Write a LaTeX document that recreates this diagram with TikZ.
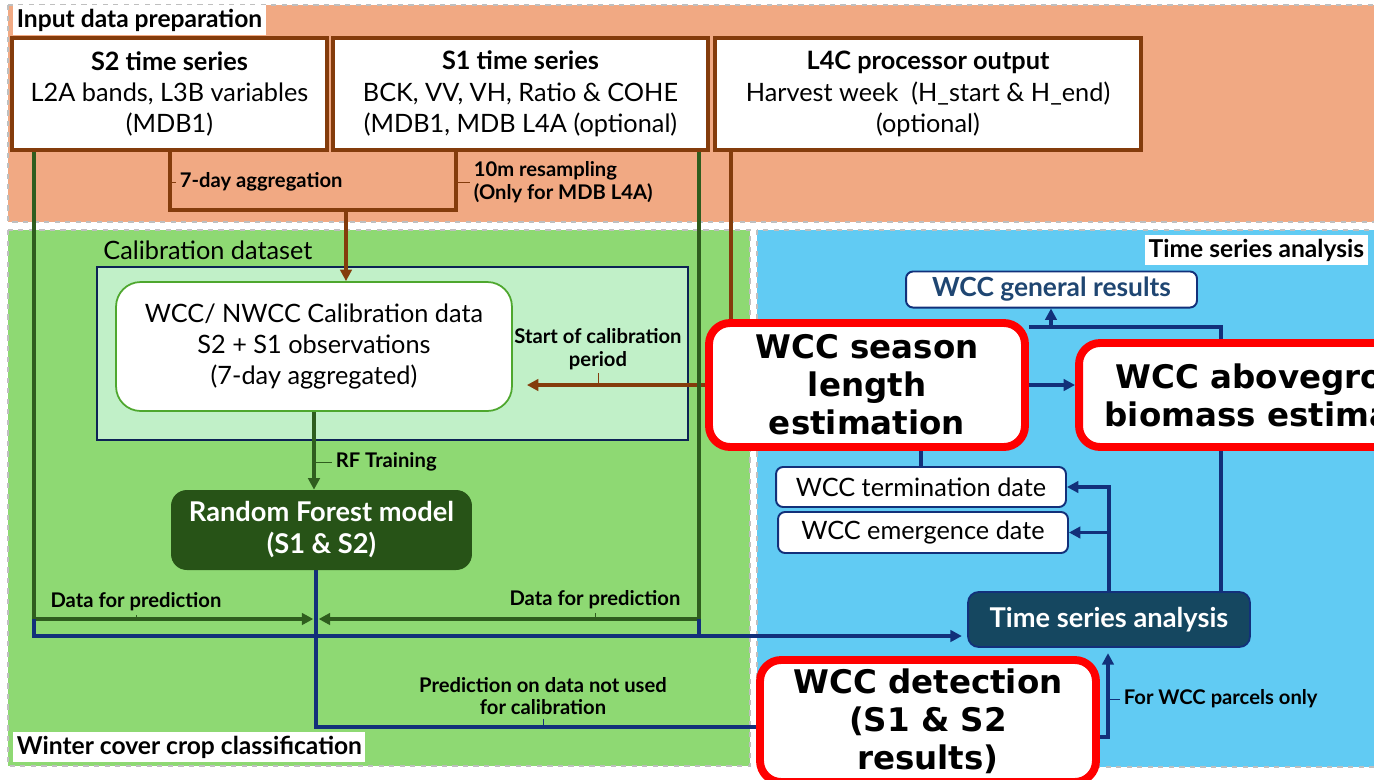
\documentclass[tikz,border=0pt]{standalone}
\usepackage{fontspec}
\setmainfont{Lato}
\newfontfamily\bigfont{DejaVu Sans}
\usetikzlibrary{arrows.meta}

\definecolor{inputbg}{HTML}{F1A983}
\definecolor{classbg}{HTML}{8ED973}
\definecolor{calbg}{HTML}{C1F0C8}
\definecolor{tsbg}{HTML}{61CBF3}
\definecolor{brownc}{HTML}{843C0C}
\definecolor{greenc}{HTML}{2F5D1E}
\definecolor{navyc}{HTML}{12307A}
\definecolor{rfc}{HTML}{275317}
\definecolor{tsac}{HTML}{154760}
\definecolor{caledge}{HTML}{4EA72E}
\definecolor{restxt}{HTML}{1F4672}

\newcommand\boxfont{\fontsize{14.4}{17.8}\selectfont}
\newcommand\lblfont{\fontsize{11.5}{12.8}\selectfont\bfseries}
\newcommand\redfont{\bigfont\bfseries\fontsize{18.5}{21.6}\selectfont}

\pgfdeclarelayer{back}
\pgfsetlayers{back,main}

\tikzset{
  panel/.style={draw=black!25, dashed, line width=0.8pt},
  paneltitle/.style={fill=white, inner sep=2pt, font=\fontsize{14}{16}\selectfont\bfseries},
  srcbox/.style={draw=brownc, line width=2pt, fill=white, align=center, font=\boxfont},
  calbox/.style={draw=caledge, line width=1pt, fill=white, rounded corners=14pt, align=center, font=\boxfont},
  rfbox/.style={fill=rfc, text=white, rounded corners=9pt, align=center, font=\fontsize{15.5}{18.2}\selectfont\bfseries},
  redbox/.style={draw=red, line width=4.5pt, fill=white, rounded corners=12pt, align=center, font=\redfont},
  navybox/.style={draw=navyc, line width=1.1pt, fill=white, rounded corners=4pt, align=center, font=\boxfont},
  tsabox/.style={draw=navyc, line width=1pt, fill=tsac, text=white, rounded corners=6pt, font=\fontsize{15.5}{18}\selectfont\bfseries},
  lbl/.style={font=\lblfont, inner sep=2pt},
  tickln/.style={line width=0.5pt},
  brownln/.style={draw=brownc, line width=2pt},
  greenln/.style={draw=greenc, line width=2pt},
  navyln/.style={draw=navyc, line width=1.9pt}
}

\begin{document}
\begin{tikzpicture}[x=0.02cm, y=-0.02cm, >={Triangle[length=6.5pt,width=6.5pt]}]
\useasboundingbox (0,0) rectangle (1374,779);
\clip (0,0) rectangle (1374,779);

% panels
\begin{pgfonlayer}{back}
\fill[white] (0,0) rectangle (1374,779);
\draw[panel, fill=inputbg] (8,5) rectangle (1380,222);
\draw[panel, fill=classbg] (8,230) rectangle (750,766);
\draw[panel, fill=tsbg] (757,230) rectangle (1380,767);
\draw[draw=navyc!70!black, line width=1pt, fill=calbg] (97,267) rectangle (688,440);
\end{pgfonlayer}

\node[paneltitle, anchor=north west] (inputttl) at (13,5) {Input data preparation};
\node[paneltitle, anchor=south west] (classttl) at (13,762) {Winter cover crop classification};
\node[paneltitle, anchor=north east] (tsttl) at (1368,235) {Time series analysis};
\node[font=\boxfont, anchor=base west, inner sep=0pt] (calttl) at (103,259) {Calibration dataset};

% input boxes
\node[srcbox, minimum width=6.3cm, minimum height=2.24cm] (s2) at (169.5,94)
  {\textbf{S2 time series}\\L2A bands, L3B variables\\(MDB1)};
\node[srcbox, minimum width=7.5cm, minimum height=2.24cm] (s1) at (520.5,94)
  {\textbf{S1 time series}\\BCK, VV, VH, Ratio \& COHE\\(MDB1, MDB L4A (optional)};
\node[srcbox, minimum width=8.52cm, minimum height=2.24cm] (l4c) at (928,94)
  {\textbf{L4C processor output}\\Harvest week\ \ (H\_start \& H\_end)\\(optional)};

% classification
\node[calbox, minimum width=7.92cm, minimum height=2.58cm] (caldata) at (314,346.5)
  {WCC/ NWCC Calibration data\\S2 + S1 observations\\(7-day aggregated)};
\node[rfbox, minimum width=6.02cm, minimum height=1.6cm] (rf) at (321.5,530)
  {Random Forest model\\(S1 \& S2)};

% time series analysis
\node[navybox, minimum width=5.82cm, minimum height=0.66cm, text=restxt, font=\fontsize{15}{17}\selectfont\bfseries] (genres) at (1051.5,289.5) {WCC general results};
\node[redbox, minimum width=6.32cm, minimum height=2.48cm] (season) at (867,385)
  {WCC season\\length\\estimation};
\node[redbox, minimum width=8.2cm, minimum height=2.08cm] (biomass) at (1284,395)
  {WCC aboveground\\biomass estimation};
\node[navybox, minimum width=5.8cm, minimum height=0.8cm] (term) at (921,487) {WCC termination date};
\node[navybox, minimum width=5.8cm, minimum height=0.82cm] (emerge) at (923,532.5) {WCC emergence date};
\node[tsabox, minimum width=5.64cm, minimum height=1.1cm] (tsa) at (1109,619.5) {Time series analysis};
\node[redbox, minimum width=6.72cm, minimum height=2.44cm] (detect) at (928,721)
  {WCC detection\\(S1 \& S2\\results)};

% labels
\node[lbl, anchor=west] (agglbl) at (176,182) {7-day aggregation};
\node[lbl, anchor=west, align=left] (reslbl) at (470,182) {10m resampling\\(Only for MDB L4A)};
\node[lbl, align=center] (startlbl) at (598,349) {Start of calibration\\period};
\node[lbl, anchor=west] (rflbl) at (332,462) {RF Training};
\node[lbl] (predlbl1) at (136,602) {Data for prediction};
\node[lbl] (predlbl2) at (595,600) {Data for prediction};
\node[lbl, align=center] (predlbl3) at (543,696) {Prediction on data not used\\for calibration};
\node[lbl, anchor=west] (parlbl) at (1120,699) {For WCC parcels only};

\coordinate (aggL) at (170,210);
\coordinate (aggR) at (456,210);
\coordinate (aggM) at (346,210);
\coordinate (harv) at (731,200);
\coordinate (predL) at (34,619);
\coordinate (predR) at (699,619);
\coordinate (predM) at (316,619);
\coordinate (navyL) at (34,636);
\coordinate (navyR) at (699,636);
\coordinate (detL) at (316,727);
\coordinate (resJ) at (1051,327);
\coordinate (bioJ) at (1221,327);
\coordinate (detR) at (1108,737);

\begin{pgfonlayer}{back}
% input data preparation
\draw[brownln] (s2.south -| aggL) -- (aggL) -- (aggR) -- (s1.south -| aggR);
\draw[brownln,->] (aggM) -- (caldata.north -| aggM);
\draw[tickln, brownc] (aggL |- agglbl.west) -- (agglbl.west);
\draw[tickln, brownc] (aggR |- reslbl.west) -- (reslbl.west);
\draw[brownln] (l4c.south -| harv) -- (season.north -| harv);
\draw[brownln,->,shorten >=8pt] (season.west) -- (caldata.east |- season.west);
\draw[tickln, brownc] (startlbl.south) -- (startlbl.south |- season.west);

% classification
\draw[greenln,->] (caldata.south) -- (caldata.south |- rf.north);
\draw[tickln, greenc] (rflbl.west -| caldata.south) -- (rflbl.west);
\draw[greenln,->,shorten >=1.5pt] (s2.south -| predL) -- (predL) -- (predM);
\draw[greenln,->,shorten >=1.5pt] (s1.south -| predR) -- (predR) -- (predM);
\draw[tickln, greenc] (predlbl1.south) -- (predlbl1.south |- predL);
\draw[tickln, greenc] (predlbl2.south) -- (predlbl2.south |- predR);
\draw[navyln,->,shorten >=3pt] (predL) -- (navyL) -- (tsa.west |- navyL);
\draw[navyln] (predR) -- (navyR);
\draw[navyln] (rf.south -| predM) -- (detL) -- (detect.west |- detL);
\draw[tickln, navyc] (predlbl3.south) -- (predlbl3.south |- detL);

% time series analysis
\draw[navyln] (season.east |- resJ) -- (bioJ) -- (biomass.north -| bioJ);
\draw[navyln,->] (resJ) -- (genres.south -| resJ);
\draw[navyln,->] (season.east) -- (biomass.west |- season.east);
\draw[navyln] (biomass.south -| bioJ) -- (tsa.north -| bioJ);
\draw[navyln] (season.south -| term.north) -- (term.north);
\draw[navyln,->] (tsa.north) -- (tsa.north |- term.east) -- (term.east);
\draw[navyln,->] (tsa.north |- emerge.east) -- (emerge.east);
\draw[navyln,->,shorten >=3pt] (detect.east |- detR) -- (detR) -- (tsa.south -| detR);
\draw[tickln, navyc] (detR |- parlbl.west) -- (parlbl.west);
\end{pgfonlayer}
\end{tikzpicture}
\end{document}
